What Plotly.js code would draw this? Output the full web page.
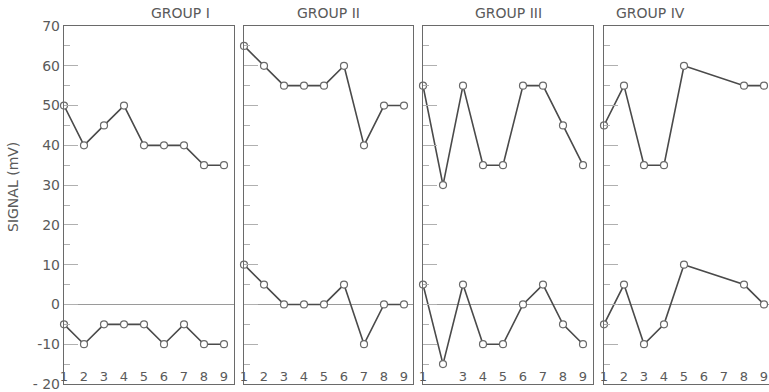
<!DOCTYPE html>
<html>
<head>
<meta charset="utf-8">
<script src="https://cdn.plot.ly/plotly-3.0.1.min.js"></script>
<style>html,body{margin:0;padding:0;background:#fff;}#chart{width:769px;height:392px;}</style>
</head>
<body>
<div id="chart"></div>
<script>
// ---- data ----
var groupNames = ["GROUP I", "GROUP II", "GROUP III", "GROUP IV"];
var trialsFull = [1, 2, 3, 4, 5, 6, 7, 8, 9];
var trialsIV = [1, 2, 3, 4, 5, 8, 9];
var upperI = [50, 40, 45, 50, 40, 40, 40, 35, 35];
var lowerI = [-5, -10, -5, -5, -5, -10, -5, -10, -10];
var upperII = [65, 60, 55, 55, 55, 60, 40, 50, 50];
var lowerII = [10, 5, 0, 0, 0, 5, -10, 0, 0];
var upperIII = [55, 30, 55, 35, 35, 55, 55, 45, 35];
var lowerIII = [5, -15, 5, -10, -10, 0, 5, -5, -10];
var upperIV = [45, 55, 35, 35, 60, 55, 55];
var lowerIV = [-5, 5, -10, -5, 10, 5, 0];
var tickLabelsFull = ["1", "2", "3", "4", "5", "6", "7", "8", "9"];
var tickValsIII = [1, 3, 4, 5, 6, 7, 8, 9];
var tickLabelsIII = ["1", "3", "4", "5", "6", "7", "8", "9"];
var yTickVals = [70, 60, 50, 40, 30, 20, 10, 0, -10, -20];
var yTickText = ["70", "60", "50", "40", "30", "20", "10", "0", "-10", "- 20"];

var lineColor = "#4a4a4a";
var textColor = "#5a5a5a";

function series(x, y, ax) {
  return {
    x: x, y: y, xaxis: ax[0], yaxis: ax[1],
    type: "scatter", mode: "lines+markers",
    line: {color: lineColor, width: 1.6},
    marker: {symbol: "circle", size: 7, color: "#ffffff", line: {color: "#6a6a6a", width: 1.2}},
    showlegend: false, hoverinfo: "x+y", cliponaxis: false
  };
}

var axes = [["x", "y"], ["x2", "y2"], ["x3", "y3"], ["x4", "y4"]];
var data = [
  series(trialsFull, upperI, axes[0]), series(trialsFull, lowerI, axes[0]),
  series(trialsFull, upperII, axes[1]), series(trialsFull, lowerII, axes[1]),
  series(trialsFull, upperIII, axes[2]), series(trialsFull, lowerIII, axes[2]),
  series(trialsIV, upperIV, axes[3]), series(trialsIV, lowerIV, axes[3])
];

var W = 705; // plot width in px (769 - left margin)
var H = 358; // plot height in px
var domains = [[0, 170 / W], [180 / W, 349 / W], [359 / W, 529 / W], [540 / W, 1]];
var xRanges = [[1, 9.5], [1, 9.45], [1, 9.5], [1, 9.25]];
var xTickVals = [trialsFull, trialsFull, tickValsIII, trialsFull];
var xTickText = [tickLabelsFull, tickLabelsFull, tickLabelsIII, tickLabelsFull];
var font = "DejaVu Sans, sans-serif";

var layout = {
  width: 769, height: 392,
  margin: {l: 64, r: 0, t: 26, b: 8, pad: 0},
  paper_bgcolor: "#ffffff", plot_bgcolor: "#ffffff",
  font: {family: font, color: textColor},
  showlegend: false,
  annotations: [],
};

for (var i = 0; i < 4; i++) {
  var xs = i === 0 ? "xaxis" : "xaxis" + (i + 1);
  var ys = i === 0 ? "yaxis" : "yaxis" + (i + 1);
  var yid = i === 0 ? "y" : "y" + (i + 1);
  var xid = i === 0 ? "x" : "x" + (i + 1);
  layout[xs] = {
    domain: domains[i], range: xRanges[i], anchor: yid,
    showgrid: false, zeroline: false,
    showline: true, linecolor: "#6a6a6a", linewidth: 1.2, mirror: true,
    ticks: "", tickmode: "array", tickvals: xTickVals[i], ticktext: xTickText[i],
    ticklabelposition: "outside", ticklabelstandoff: -20, ticklabeloverflow: "allow",
    tickfont: {size: 13, color: textColor, family: font},
    fixedrange: true
  };
  layout[ys] = {
    domain: [0, 1], range: [-20, 70], anchor: xid,
    showgrid: false,
    zeroline: true, zerolinecolor: "#9a9a9a", zerolinewidth: 1,
    showline: true, linecolor: "#6a6a6a", linewidth: 1.2, mirror: true,
    ticks: "inside", ticklen: 14, tickwidth: 1, tickcolor: "#b0b0b0",
    tickmode: "array", tickvals: yTickVals, ticktext: yTickText,
    showticklabels: i === 0, ticklabeloverflow: "allow",
    tickfont: {size: 14, color: textColor, family: font},
    minor: {ticks: "inside", ticklen: 6, dtick: 5, tickcolor: "#b0b0b0", tickwidth: 1},
    fixedrange: true
  };
  layout.annotations.push({
    text: groupNames[i], xref: "paper", yref: "paper",
    x: (domains[i][0] + domains[i][1]) / 2, y: 1, yanchor: "bottom", yshift: 3,
    showarrow: false, font: {size: 14, color: textColor, family: font}
  });
}

layout.annotations.push({
  text: "SIGNAL (mV)", textangle: -90, xref: "paper", yref: "paper",
  x: -51 / W, xanchor: "center", y: (384 - 187) / H, yanchor: "middle",
  showarrow: false, font: {size: 14, color: textColor, family: font}
});

Plotly.newPlot("chart", data, layout, {staticPlot: true, displayModeBar: false});
</script>
</body>
</html>
